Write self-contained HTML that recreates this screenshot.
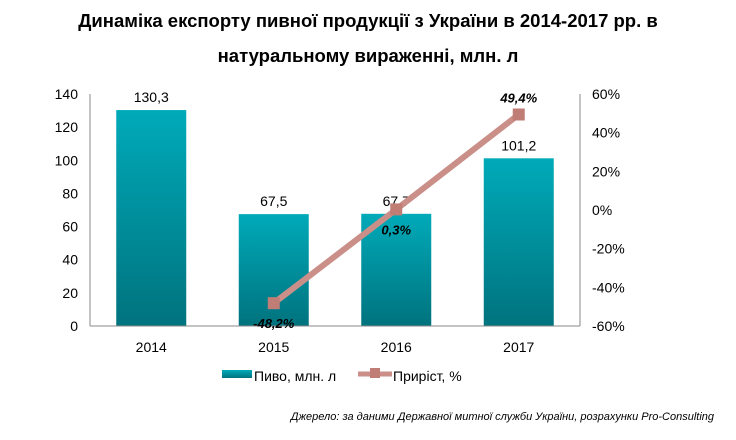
<!DOCTYPE html>
<html><head><meta charset="utf-8"><style>
body{margin:0;background:#fff;}
svg text{font-family:"Liberation Sans",Arial,sans-serif;}
</style></head><body>
<svg id="c" width="736" height="435" viewBox="0 0 736 435" xmlns="http://www.w3.org/2000/svg">
<defs><linearGradient id="g" x1="0" y1="0" x2="0" y2="1"><stop offset="0" stop-color="#00aab9"/><stop offset="1" stop-color="#00737e"/></linearGradient></defs>
<text x="368" y="27" text-anchor="middle" font-size="18.5" font-weight="bold">Динаміка експорту пивної продукції з України в 2014-2017 рр. в</text>
<text x="368" y="62" text-anchor="middle" font-size="18.5" font-weight="bold">натуральному вираженні, млн. л</text>
<g id="plot"></g>
<g>
<rect x="222" y="370" width="30" height="8" fill="url(#g)"/>
<text x="254" y="381" font-size="14">Пиво, млн. л</text>
<line x1="358" y1="374" x2="392" y2="374" stroke="#c98f88" stroke-width="5"/>
<rect x="370" y="368" width="10" height="10" fill="#c07d76"/>
<text x="393" y="381" font-size="14">Приріст, %</text>
</g>
<text x="714" y="420" text-anchor="end" font-size="11" font-style="italic">Джерело: за даними Державної митної служби України, розрахунки Pro-Consulting</text>
</svg>
<script>
const categories=["2014","2015","2016","2017"];
const beer=[130.3,67.5,67.7,101.2];
const beerLabels=["130,3","67,5","67,7","101,2"];
const growth=[null,-48.2,0.3,49.4];
const growthLabels=["","-48,2%","0,3%","49,4%"];
const leftTicks=[0,20,40,60,80,100,120,140];
const rightTicks=[-60,-40,-20,0,20,40,60];
const NS="http://www.w3.org/2000/svg";
const g=document.getElementById('plot');
const X0=90,X1=580,Y0=326,Y1=94;
const band=(X1-X0)/categories.length;
const xc=i=>X0+band*(i+0.5);
const yl=v=>Y0-(v/140)*(Y0-Y1);
const yr=v=>Y0-((v+60)/120)*(Y0-Y1);
function mk(t,a){const e=document.createElementNS(NS,t);for(const k in a)e.setAttribute(k,a[k]);g.appendChild(e);return e;}
leftTicks.forEach(v=>{const t=mk('text',{x:78,y:yl(v)+5,'text-anchor':'end','font-size':14});t.textContent=v;

});
rightTicks.forEach(v=>{const t=mk('text',{x:592,y:yr(v)+5,'font-size':14});t.textContent=v+'%';

});
beer.forEach((v,i)=>{const r=mk('rect',{x:xc(i)-35,y:yl(v),width:70,height:Y0-yl(v),fill:'url(#g)'});


const t=mk('text',{x:xc(i),y:yl(v)-8,'text-anchor':'middle','font-size':14});t.textContent=beerLabels[i];


const c=mk('text',{x:xc(i),y:352,'text-anchor':'middle','font-size':14});c.textContent=categories[i];

});
let a1=mk('line',{x1:X0,y1:Y1,x2:X0,y2:Y0,stroke:'#888'});


let a2=mk('line',{x1:X1,y1:Y1,x2:X1,y2:Y0,stroke:'#888'});


let a3=mk('line',{x1:X0,y1:Y0,x2:X1,y2:Y0,stroke:'#888'});


const pts=[];growth.forEach((v,i)=>{if(v!==null)pts.push([xc(i),yr(v)]);});
const pl=mk('polyline',{points:pts.map(p=>p.join(',')).join(' '),fill:'none',stroke:'#c98f88','stroke-width':6});


growth.forEach((v,i)=>{if(v===null)return;
const m=mk('rect',{x:xc(i)-6,y:yr(v)-6,width:12,height:12,fill:'#c07d76'});


const t=mk('text',{x:xc(i),y:v>40?yr(v)-12:yr(v)+25,'text-anchor':'middle','font-size':13,'font-weight':'bold','font-style':'italic'});t.textContent=growthLabels[i];

});
</script>
</body></html>
